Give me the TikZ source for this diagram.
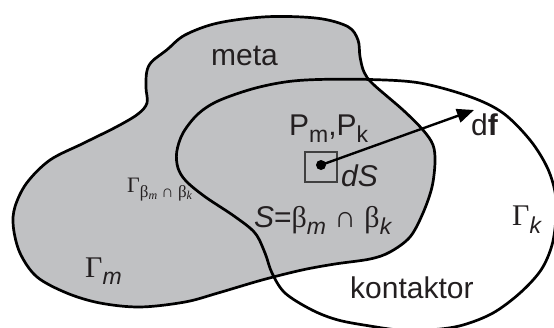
\documentclass[tikz,border=0pt]{standalone}
\usepackage{fontspec}
\setmainfont{Liberation Sans}
\newfontfamily\grk{Liberation Serif}
\usetikzlibrary{arrows.meta}
\definecolor{metagray}{RGB}{192,193,195}
\definecolor{ink}{RGB}{35,31,32}
\tikzset{
  outline/.style={line width=2.7pt, draw=black, line join=round},
  lbl/.style={anchor=base west, inner sep=0pt, text=ink, font=\fontsize{30}{32}\selectfont},
  glbl/.style={anchor=base west, inner sep=0pt, text=ink, font=\grk\fontsize{30}{32}\selectfont},
}
\newcommand{\lowsub}[2][7pt]{\raisebox{-#1}{\fontsize{23}{23}\selectfont #2}}
\begin{document}
\begin{tikzpicture}[x=1pt,y=-1pt]
\useasboundingbox (0,0) rectangle (554,327);
\clip (0,0) rectangle (554,327);
% meta body
\fill[metagray] plot[smooth cycle, tension=0.55] coordinates {
 (146.7,72) (151.7,61.7) (166.7,50) (185,35) (218,23) (268,16.7) (318,18.3)
 (348,26.7) (358,40) (360,56.7) (364,72) (373,84) (403,110) (423,130) (433,145)
 (435,162) (432,187) (423,213) (410,237) (390,252) (370,259) (335,264) (302,270)
 (262,280) (218,293) (185,302) (140,307) (100,303) (66.7,293) (36.7,276.7)
 (20,253) (13.3,226.7) (15,206.7) (26.7,183) (50,160) (83.3,143.3) (116.7,126.7)
 (138,114) (147,103) (146,88)};
\draw[outline] plot[smooth cycle, tension=0.55] coordinates {
 (146.7,72) (151.7,61.7) (166.7,50) (185,35) (218,23) (268,16.7) (318,18.3)
 (348,26.7) (358,40) (360,56.7) (364,72) (373,84) (403,110) (423,130) (433,145)
 (435,162) (432,187) (423,213) (410,237) (390,252) (370,259) (335,264) (302,270)
 (262,280) (218,293) (185,302) (140,307) (100,303) (66.7,293) (36.7,276.7)
 (20,253) (13.3,226.7) (15,206.7) (26.7,183) (50,160) (83.3,143.3) (116.7,126.7)
 (138,114) (147,103) (146,88)};
% contactor outline
\draw[outline] plot[smooth cycle, tension=0.55] coordinates {
 (176.7,152) (183,133) (198,114) (218,101) (252,89) (285,82) (318,79.5)
 (370,79.5) (420,83) (470,96.7) (503,113) (530,140) (547,167) (555,192)
 (556,217) (552,245) (541,270) (520,293) (493,313) (463,325) (435,329.5)
 (400,330) (370,326) (338,320) (312,310) (285,293) (272,273) (265,253)
 (255,233) (235,216.7) (205,196.7) (186,181) (178,168)};
% labels
\node[lbl] (meta) at (211,65) {meta};
\node[lbl] (kont) at (350,298) {kontaktor};
\node[lbl] (pmpk) at (289,135) {P\lowsub{m},P\lowsub{k}};
\node[lbl] (df) at (471,135) {d\textbf{f}};
\node[lbl] (dS) at (341,186) {\textit{dS}};
\node[lbl] (S) at (254,227) {\textit{S}={\grk β}\lowsub{\textit{m}} {\grk ∩} {\grk β}\lowsub{\textit{k}}};
\node[glbl] (Gm) at (85,277) {Γ\lowsub[7pt]{\fontspec{Liberation Sans}\textit{m}}};
\node[glbl] (Gk) at (512,225) {Γ\lowsub[8pt]{\fontspec{Liberation Sans}\textit{k}}};
\node[anchor=base west, inner sep=0pt, text=ink, font=\grk\fontsize{22}{24}\selectfont] (Gb) at (127,192)
  {Γ\raisebox{-5pt}{\fontsize{17}{17}\selectfont β\raisebox{-2.5pt}{\fontsize{12}{12}\selectfont\textit{m}} ∩ β\raisebox{-2.5pt}{\fontsize{12}{12}\selectfont\textit{k}}}};
% element dS and force
\node[draw=black!75, line width=1.1pt, minimum width=32pt, minimum height=30pt, inner sep=0pt] (sq) at (321,167) {};
\node[circle, fill=black, inner sep=0pt, minimum size=10pt] (pt) at (321,165) {};
\coordinate (tip) at (474,110);
\draw[line width=2.4pt, -{Triangle[length=17pt, width=14pt]}] (pt.center) -- (tip);
\end{tikzpicture}
\end{document}
